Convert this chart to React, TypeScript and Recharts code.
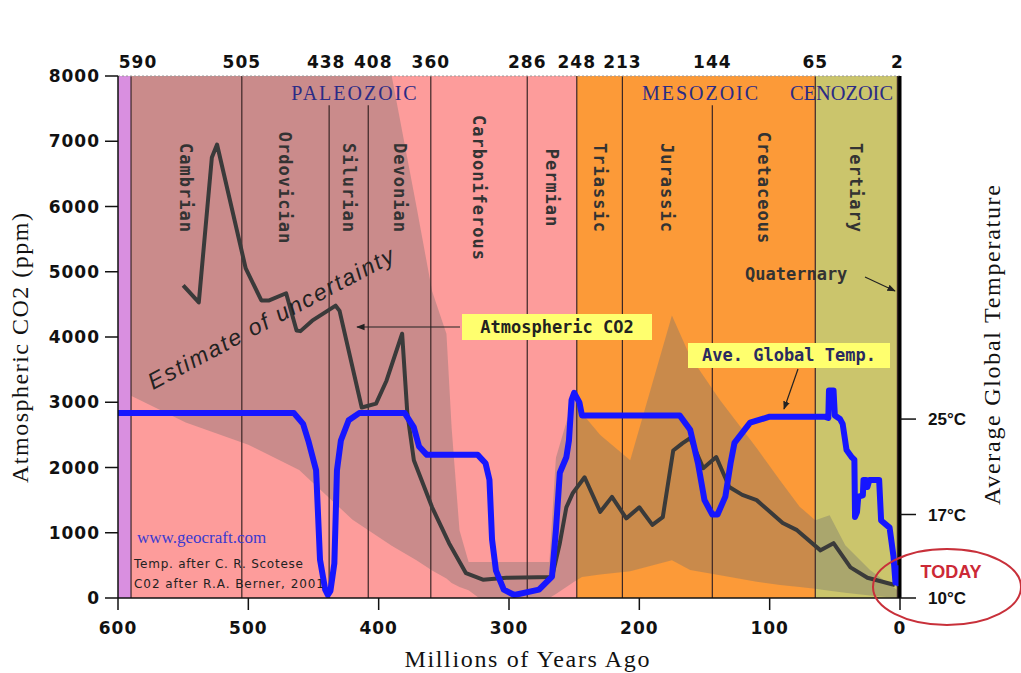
import React from 'react';
import {
  ComposedChart,
  Line,
  Area,
  XAxis,
  YAxis,
  ReferenceArea,
  ReferenceLine,
} from 'recharts';

const W = 1021;
const H = 673;

// x axis: millions of years ago
const bottomTicks = [600, 500, 400, 300, 200, 100, 0];
const co2Ticks = [0, 1000, 2000, 3000, 4000, 5000, 6000, 7000, 8000];
const tempTicks = [10, 17, 25];

// period boundaries (top axis)
const periodBounds = [590, 505, 438, 408, 360, 286, 248, 213, 144, 65, 2];
const fullBounds = [590, 505, 360, 286, 248, 213, 65, 2];
const shortBounds = [438, 408, 144];
// nudges so crowded top labels don't touch
const topLabelNudge: Record<number, number> = { 590: 7, 438: -3, 408: 5 };

const periodNames = ['Cambrian', 'Ordovician', 'Silurian', 'Devonian', 'Carboniferous', 'Permian', 'Triassic', 'Jurassic', 'Cretaceous', 'Tertiary'];
const periodStarts = [590, 505, 438, 408, 360, 286, 248, 213, 144, 65];
const periodEnds = [505, 438, 408, 360, 286, 248, 213, 144, 65, 2];

// background eras
const bandStarts = [600, 590, 248, 65, 2];
const bandEnds = [590, 248, 65, 2, 0];
const bandColors = ['#d98fe0', '#fd9c9b', '#fc9a38', '#cbc56c', '#111111'];

// atmospheric CO2 (ppm)
const co2Ages = [550, 538, 528, 524, 502, 490, 484, 471, 463, 460, 451, 433, 430, 413, 402, 394, 382, 378, 373, 359, 346, 333, 320, 302, 267, 261, 256, 251, 242, 230, 221, 210, 200, 190, 182, 174, 167, 161, 151, 141, 131, 121, 110, 90, 79, 61, 51, 38, 25, 4];
const co2Ppm = [4790, 4530, 6750, 6950, 5050, 4560, 4560, 4670, 4100, 4090, 4250, 4480, 4400, 2920, 2980, 3330, 4050, 2830, 2110, 1390, 840, 380, 280, 310, 320, 840, 1390, 1610, 1850, 1320, 1550, 1220, 1390, 1120, 1240, 2260, 2370, 2450, 1990, 2160, 1700, 1580, 1500, 1150, 1040, 730, 840, 470, 310, 200];

// uncertainty envelope of CO2 (ppm)
const bandAges = [590, 548, 500, 461, 420, 390, 371, 359, 348, 344, 338, 331, 323, 300, 269, 264, 250, 244, 230, 207, 175, 161, 138, 110, 92, 77, 65, 54, 42, 23, 2];
const bandLow = [3100, 2690, 2350, 1960, 1200, 800, 580, 420, 300, 230, 170, 120, 0, 0, 0, 60, 250, 320, 360, 410, 580, 430, 350, 250, 200, 170, 140, 110, 80, 40, 0];
const bandHigh = [8000, 8000, 8000, 8000, 8000, 8000, 6000, 4700, 4050, 2600, 1040, 550, 550, 550, 550, 2150, 3100, 2830, 2500, 2110, 4330, 3700, 3030, 2300, 1800, 1400, 1190, 1270, 810, 430, 120];

// average global temperature (°C)
const tempAges = [
  600, 465, 458, 454, 448, 445, 441, 439, 437, 434, 432, 429, 423, 415,
  380, 373, 369, 363, 324, 318, 315, 313, 310, 304, 296, 277, 267, 264,
  261, 256, 254, 252, 250, 246, 244, 169, 161, 155, 150, 144, 140, 134,
  130, 127, 115, 100, 58, 55, 54.5, 51, 50, 46, 44, 41, 37, 35,
  34.5, 33, 32, 28.5, 28, 26, 25, 23.5, 21, 16, 14.5, 8, 5, 3.5,
  1.5, 0.5,
];
const tempValues = [
  25.5, 25.5, 24.6, 23.2, 20.7, 13.2, 10.7, 10.25, 10.6, 12.9, 20.7, 23.2, 24.9, 25.5,
  25.5, 24.3, 22.7, 22.0, 22.0, 21.3, 19.9, 14.9, 12.3, 10.7, 10.25, 10.7, 11.8, 15.7,
  20.5, 21.8, 23.2, 26.6, 27.2, 26.4, 25.3, 25.3, 24.1, 21.3, 18.2, 17.0, 17.0, 18.5,
  21.3, 23.0, 24.7, 25.2, 25.2, 25.1, 27.4, 27.4, 25.3, 25.0, 24.6, 22.4, 21.8, 21.6,
  16.8, 17.2, 18.5, 18.6, 19.9, 19.9, 19.3, 19.9, 19.9, 19.9, 16.5, 15.9, 13.5, 11.3,
  12.5, 11.0,
];

const co2Data = co2Ages.map((age, i) => ({ age, ppm: co2Ppm[i] }));
const bandData = bandAges.map((age, i) => ({ age, range: [bandLow[i], bandHigh[i]] }));
const tempData = tempAges.map((age, i) => ({ age, temp: tempValues[i] }));

const tickFont = {
  fill: '#111',
  fontSize: 17,
  fontWeight: 'bold',
  fontFamily: 'DejaVu Sans',
  letterSpacing: 1,
};
const monoFont = {
  fontFamily: 'DejaVu Sans Mono',
  fontWeight: 'bold' as const,
  fontSize: 17,
  fill: '#333',
};

const TopTick = (props: any) => {
  const { x, y, payload } = props;
  const dx = topLabelNudge[payload.value] || 0;
  return (
    <text x={x + dx} y={y} textAnchor="middle" {...tickFont}>
      {payload.value}
    </text>
  );
};

const periodLabel = (name: string) => (props: any) => {
  const vb = props.viewBox || {};
  const cx = vb.x + vb.width / 2;
  return (
    <text
      transform={`translate(${cx},188) rotate(90)`}
      textAnchor="middle"
      dominantBaseline="central"
      letterSpacing={1}
      {...monoFont}
    >
      {name}
    </text>
  );
};

export default function App() {
  return (
    <div style={{ position: 'relative', width: W, height: H, background: '#fff', overflow: 'hidden' }}>
      <style>{`html, body { margin: 0; padding: 0; overflow: hidden; }`}</style>
      <ComposedChart width={W} height={H} margin={{ top: 46, right: 0, bottom: 0, left: 0 }}>
        <XAxis
          xAxisId="bottom"
          dataKey="age"
          type="number"
          domain={[0, 600]}
          reversed
          allowDataOverflow
          ticks={bottomTicks}
          interval={0}
          height={75}
          tickSize={12}
          tickMargin={12}
          axisLine={{ stroke: '#111', strokeWidth: 1.5 }}
          tickLine={{ stroke: '#111', strokeWidth: 1.5 }}
          tick={tickFont}
        />
        <XAxis
          xAxisId="top"
          orientation="top"
          dataKey="age"
          type="number"
          domain={[0, 600]}
          reversed
          allowDataOverflow
          ticks={periodBounds}
          interval={0}
          height={30}
          tickSize={0}
          tickMargin={8}
          axisLine={false}
          tickLine={false}
          tick={<TopTick />}
        />
        <YAxis
          yAxisId="left"
          type="number"
          domain={[0, 8000]}
          allowDataOverflow
          ticks={co2Ticks}
          interval={0}
          width={118}
          tickSize={13}
          tickMargin={5}
          axisLine={{ stroke: '#111', strokeWidth: 1.5 }}
          tickLine={{ stroke: '#111', strokeWidth: 1.5 }}
          tick={tickFont}
        />
        <YAxis
          yAxisId="right"
          orientation="right"
          type="number"
          domain={[10, 53.76]}
          allowDataOverflow
          ticks={tempTicks}
          interval={0}
          width={121}
          tickSize={16}
          tickMargin={12}
          tickFormatter={(v) => `${v}°C`}
          axisLine={{ stroke: '#000', strokeWidth: 3 }}
          tickLine={{ stroke: '#111', strokeWidth: 1.5 }}
          tick={{ fill: '#111', fontSize: 17, fontWeight: 600, fontFamily: 'Liberation Sans' }}
        />

        {bandStarts.map((s, i) => (
          <ReferenceArea
            key={`band-${s}`}
            xAxisId="bottom"
            yAxisId="left"
            x1={s}
            x2={bandEnds[i]}
            y1={0}
            y2={8000}
            fill={bandColors[i]}
            fillOpacity={1}
            stroke="none"
          />
        ))}

        <Area
          xAxisId="bottom"
          yAxisId="left"
          data={bandData}
          dataKey="range"
          type="linear"
          fill="#707070"
          fillOpacity={0.36}
          stroke="none"
          isAnimationActive={false}
        />

        {fullBounds.map((b) => (
          <ReferenceLine key={`fb-${b}`} xAxisId="bottom" yAxisId="left" x={b} stroke="#3a2626" strokeWidth={1.2} />
        ))}
        {shortBounds.map((b) => (
          <ReferenceLine
            key={`sb-${b}`}
            xAxisId="bottom"
            yAxisId="left"
            segment={[{ x: b, y: 0 }, { x: b, y: 7550 }]}
            stroke="#3a2626"
            strokeWidth={1.2}
          />
        ))}
        <ReferenceLine xAxisId="bottom" yAxisId="left" y={8000} stroke="#999" strokeDasharray="2 2" />

        {periodNames.map((name, i) => (
          <ReferenceArea
            key={`p-${name}`}
            xAxisId="bottom"
            yAxisId="left"
            x1={periodStarts[i]}
            x2={periodEnds[i]}
            y1={0}
            y2={8000}
            fill="none"
            fillOpacity={0}
            stroke="none"
            label={periodLabel(name)}
          />
        ))}

        <Line
          xAxisId="bottom"
          yAxisId="left"
          data={co2Data}
          dataKey="ppm"
          type="linear"
          stroke="#3a3a3a"
          strokeWidth={4}
          strokeLinejoin="round"
          dot={false}
          isAnimationActive={false}
        />
        <Line
          xAxisId="bottom"
          yAxisId="right"
          data={tempData}
          dataKey="temp"
          type="linear"
          stroke="#1616ff"
          strokeWidth={6}
          strokeLinejoin="round"
          dot={false}
          isAnimationActive={false}
        />
      </ComposedChart>

      <svg width={W} height={H} style={{ position: 'absolute', left: 0, top: 0, pointerEvents: 'none' }}>
        <defs>
          <marker id="arrow" viewBox="0 0 10 10" refX="9" refY="5" markerWidth="7" markerHeight="7" orient="auto">
            <path d="M0,1 L10,5 L0,9 z" fill="#222" />
          </marker>
        </defs>
        <text x={355} y={100} textAnchor="middle" fontFamily="Liberation Serif" fontSize={20} letterSpacing={2} fill="#2b2b86">PALEOZOIC</text>
        <text x={701} y={100} textAnchor="middle" fontFamily="Liberation Serif" fontSize={20} letterSpacing={2} fill="#2b2b86">MESOZOIC</text>
        <text x={790} y={100} fontFamily="Liberation Serif" fontSize={20} textLength={103} lengthAdjust="spacingAndGlyphs" fill="#2b2b86">CENOZOIC</text>

        <text x={745} y={280} {...monoFont}>Quaternary</text>
        <line x1={865} y1={277} x2={895} y2={291} stroke="#222" strokeWidth={1.2} markerEnd="url(#arrow)" />

        <text transform="translate(153,390) rotate(-28)" fontFamily="Liberation Sans" fontStyle="italic" fontSize={23} textLength={275} fill="#222">
          Estimate of uncertainty
        </text>

        <rect x={462} y={314} width={190} height={26} fill="#ffff6e" />
        <text x={557} y={333} textAnchor="middle" {...monoFont} fill="#222">Atmospheric CO2</text>
        <line x1={460} y1={327} x2={357} y2={327} stroke="#222" strokeWidth={1.2} markerEnd="url(#arrow)" />

        <rect x={688} y={343} width={202} height={25} fill="#ffff6e" />
        <text x={789} y={361} textAnchor="middle" {...monoFont} fill="#2a2a60">Ave. Global Temp.</text>
        <line x1={798} y1={369} x2={784} y2={409} stroke="#222" strokeWidth={1.2} markerEnd="url(#arrow)" />

        <text x={137} y={543} fontFamily="Liberation Serif" fontSize={17} fill="#3a3ad0">www.geocraft.com</text>
        <text x={134} y={568} fontFamily="DejaVu Sans" fontSize={12} textLength={169} fill="#222">Temp. after C. R. Scotese</text>
        <text x={134} y={588} fontFamily="DejaVu Sans" fontSize={12} textLength={190} fill="#222">C02 after R.A. Berner, 2001</text>

        <text x={951} y={578} textAnchor="middle" fontFamily="Liberation Sans" fontWeight="bold" fontSize={18} fill="#cc2936">TODAY</text>
        <ellipse cx={947} cy={587} rx={74} ry={38} fill="none" stroke="#c8303a" strokeWidth={2} />

        <text transform="translate(28,348) rotate(-90)" textAnchor="middle" fontFamily="Liberation Serif" fontSize={24} textLength={270} fill="#111">
          Atmospheric CO2 (ppm)
        </text>
        <text x={527} y={667} textAnchor="middle" fontFamily="Liberation Serif" fontSize={24} textLength={245} fill="#111">
          Millions of Years Ago
        </text>
        <text transform="translate(1000,345) rotate(-90)" textAnchor="middle" fontFamily="Liberation Serif" fontSize={24} textLength={320} fill="#111">
          Average Global Temperature
        </text>
      </svg>
    </div>
  );
}
